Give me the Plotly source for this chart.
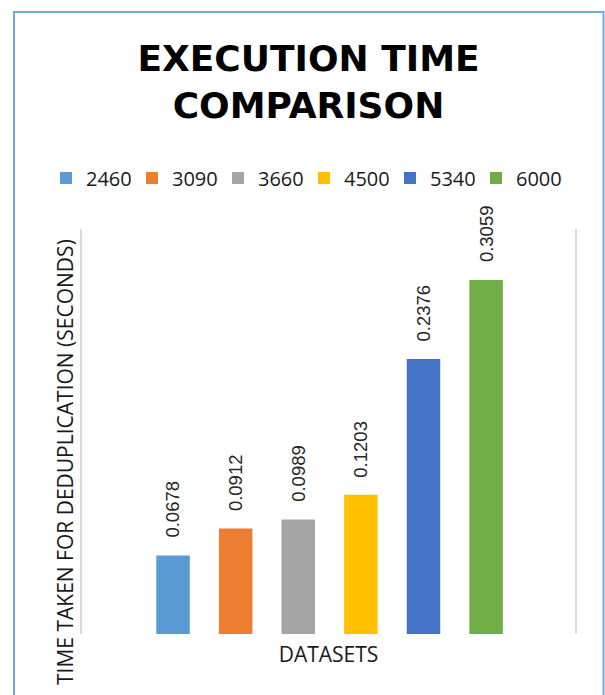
import plotly.graph_objects as go

# ---- data ----
series_names = ["2460", "3090", "3660", "4500", "5340", "6000"]
times = [0.0678, 0.0912, 0.0989, 0.1203, 0.2376, 0.3059]
colors = ["#5B9BD5", "#ED7D31", "#A5A5A5", "#FFC000", "#4472C4", "#70AD47"]
title_text = "EXECUTION TIME<br>COMPARISON"
x_title = "DATASETS"
y_title = "TIME TAKEN FOR DEDUPLICATION (SECONDS)"

W, H = 605, 695
L, R, T, B = 82, 30, 229, 61
PW, PH = W - L - R, H - T - B

def px_x(p):
    return (p - L) / PW

def px_y(p):
    return (H - B - p) / PH

fig = go.Figure()
for i, (name, val, col) in enumerate(zip(series_names, times, colors)):
    fig.add_trace(go.Bar(
        x=[i], y=[val], name=name, marker_color=col, width=0.535,
        marker_line_width=0, hoverinfo="name+y",
    ))
    fig.add_annotation(
        x=i, y=val, xref="x", yref="y", text=f"{val:.4f}",
        textangle=-90, showarrow=False, yanchor="middle", xanchor="center",
        yshift=46, xshift=0,
        font=dict(family="Arial", size=18.5, color="#262626"),
    )

# y-axis title as annotation (positioned like the original)
fig.add_annotation(
    x=px_x(65), y=px_y(462), xref="paper", yref="paper", text=y_title,
    textangle=-90, showarrow=False, xanchor="center", yanchor="middle",
    font=dict(family="Open Sans", size=21, color="#1a1a1a"),
)

# outer chart border (blue)
fig.add_shape(
    type="rect", xref="paper", yref="paper",
    x0=px_x(14), x1=px_x(603.5), y0=px_y(12), y1=px_y(720),
    line=dict(color="#6FA8DC", width=2), fillcolor="rgba(0,0,0,0)", layer="below",
)

fig.update_layout(
    width=W, height=H,
    margin=dict(l=L, r=R, t=T, b=B),
    paper_bgcolor="white", plot_bgcolor="white",
    barmode="overlay",
    showlegend=True,
    title=dict(
        text=title_text, x=308.5 / W, xref="container", xanchor="center",
        y=1 - 71 / H, yref="container", yanchor="top",
        font=dict(family="DejaVu Sans", size=36, color="#000000", weight="bold"),
    ),
    legend=dict(
        orientation="h", x=px_x(46), xanchor="left", y=px_y(178), yanchor="middle",
        font=dict(family="Open Sans", size=20, color="#1a1a1a"),
        entrywidth=41, entrywidthmode="pixels", bgcolor="rgba(0,0,0,0)",
        traceorder="normal",
    ),
    xaxis=dict(
        range=[-1.454, 6.42], showticklabels=False, showgrid=False,
        zeroline=False, showline=False, ticks="",
        title=dict(text=x_title, standoff=13,
                   font=dict(family="Open Sans", size=21, color="#1a1a1a")),
    ),
    yaxis=dict(
        range=[0, 0.35], showticklabels=False, showgrid=False, zeroline=False,
        showline=True, mirror=True, linecolor="#D9D9D9", linewidth=2, ticks="",
    ),
)

fig.write_html("out.html")
